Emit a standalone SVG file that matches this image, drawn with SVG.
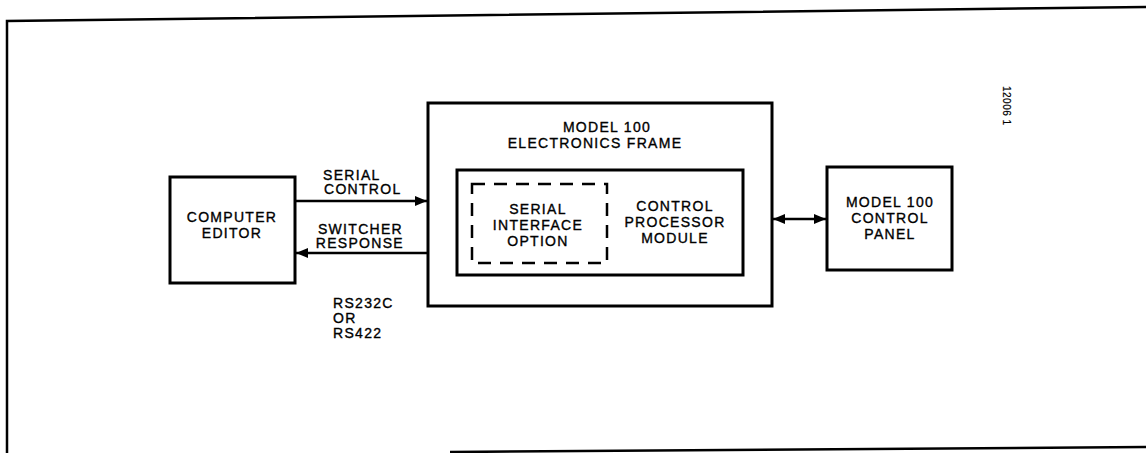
<svg xmlns="http://www.w3.org/2000/svg" width="1146" height="453" viewBox="0 0 1146 453">
<style>
.box{fill:none;stroke:#000;stroke-width:3}
.dash{fill:none;stroke:#000;stroke-width:2.5;stroke-dasharray:13,9}
.ln{stroke:#000;stroke-width:2.5;fill:none}
text{font-family:"Liberation Sans",Arial,sans-serif;font-size:14px;letter-spacing:1.3px;fill:#000;stroke:#000;stroke-width:0.35px}
.c{text-anchor:middle}
</style>
<defs>
<marker id="ah" viewBox="0 0 12 10" refX="12" refY="5" markerWidth="12" markerHeight="10" markerUnits="userSpaceOnUse" orient="auto-start-reverse">
<path d="M0,0 L12,5 L0,10 Z" fill="#000"/>
</marker>
</defs>
<g id="border">
<path d="M7,453 L7,21 L1146,7" class="ln" stroke-width="3"/>
<path d="M450,452 L1146,447" class="ln" stroke-width="2"/>
</g>
<g id="computer-editor">
<rect x="170" y="177" width="125" height="106" class="box"/>
<text x="232" y="222" class="c">COMPUTER</text>
<text x="232" y="238" class="c">EDITOR</text>
</g>
<g id="electronics-frame">
<rect x="428" y="103" width="344" height="203" class="box"/>
<text x="607" y="132" class="c">MODEL 100</text>
<text x="595" y="148" class="c">ELECTRONICS FRAME</text>
</g>
<g id="control-processor-module">
<rect x="457" y="170" width="286" height="105" class="box" stroke-width="2.5"/>
<text x="675" y="211" class="c">CONTROL</text>
<text x="675" y="227" class="c">PROCESSOR</text>
<text x="675" y="243" class="c">MODULE</text>
</g>
<g id="serial-interface-option">
<rect x="472" y="184" width="135" height="79" class="dash"/>
<text x="538" y="214" class="c">SERIAL</text>
<text x="538" y="230" class="c">INTERFACE</text>
<text x="538" y="246" class="c">OPTION</text>
</g>
<g id="control-panel">
<rect x="827" y="167" width="125" height="103" class="box"/>
<text x="890" y="207" class="c">MODEL 100</text>
<text x="890" y="223" class="c">CONTROL</text>
<text x="890" y="239" class="c">PANEL</text>
</g>
<g id="connectors">
<line x1="295" y1="201" x2="427" y2="201" class="ln" marker-end="url(#ah)"/>
<line x1="427" y1="253" x2="296" y2="253" class="ln" marker-end="url(#ah)"/>
<line x1="773" y1="219" x2="826" y2="219" class="ln" marker-start="url(#ah)" marker-end="url(#ah)"/>
</g>
<g id="labels">
<text x="323" y="180">SERIAL</text>
<text x="324" y="194">CONTROL</text>
<text x="403" y="234" text-anchor="end">SWITCHER</text>
<text x="404" y="248" text-anchor="end">RESPONSE</text>
<text x="333" y="308">RS232C</text>
<text x="333" y="323">OR</text>
<text x="333" y="338">RS422</text>
<text transform="translate(1003,86) rotate(90)" style="font-size:10px;letter-spacing:0.5px;stroke-width:0.2px">12006 1</text>
</g>
</svg>
